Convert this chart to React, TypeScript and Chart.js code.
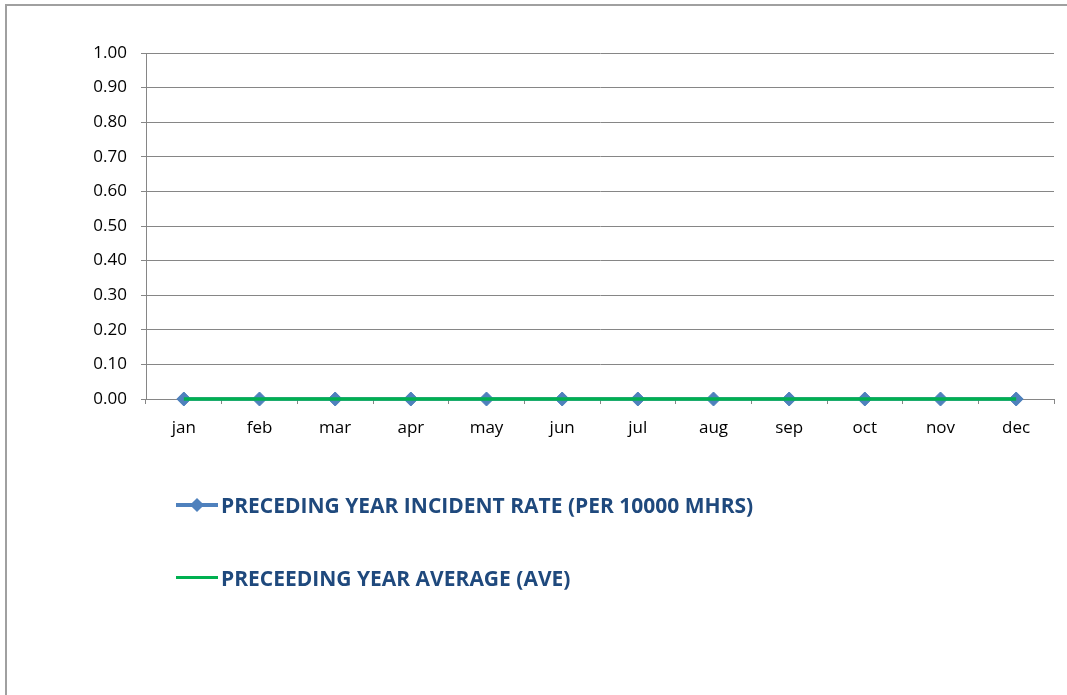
import React, { useEffect, useRef } from "react";
import { Chart, registerables } from "chart.js";

Chart.register(...registerables);

const months = ["jan", "feb", "mar", "apr", "may", "jun", "jul", "aug", "sep", "oct", "nov", "dec"];
const incidentRate = [0, 0, 0, 0, 0, 0, 0, 0, 0, 0, 0, 0];
const yearAverage = [0, 0, 0, 0, 0, 0, 0, 0, 0, 0, 0, 0];
const yTickLabels = ["0.00", "0.10", "0.20", "0.30", "0.40", "0.50", "0.60", "0.70", "0.80", "0.90", "1.00"];
const seriesNames = ["PRECEDING YEAR INCIDENT RATE (PER 10000 MHRS)", "PRECEEDING YEAR AVERAGE (AVE)"];

const BLUE = "#4F81BD";
const GREEN = "#00B050";
const GRID = "#868686";
const FONT = "'Open Sans', sans-serif";

export default function App() {
  const canvasRef = useRef<HTMLCanvasElement | null>(null);

  useEffect(() => {
    const canvas = canvasRef.current;
    if (!canvas) return;
    const X_AXIS_H = 60;
    const chart = new Chart(canvas, {
      type: "line",
      data: {
        labels: months,
        datasets: [
          {
            label: seriesNames[1],
            data: yearAverage,
            borderColor: GREEN,
            backgroundColor: GREEN,
            borderWidth: 3.5,
            pointRadius: 0,
            order: 0,
            clip: false,
          },
          {
            label: seriesNames[0],
            data: incidentRate,
            borderColor: BLUE,
            backgroundColor: BLUE,
            borderWidth: 3.5,
            pointStyle: "rectRot",
            pointRadius: 7,
            pointBorderWidth: 1,
            pointBorderColor: "#4A7EBB",
            pointBackgroundColor: BLUE,
            order: 1,
            clip: false,
          },
        ],
      },
      options: {
        animation: false,
        responsive: false,
        maintainAspectRatio: false,
        layout: { padding: { left: 0, top: 53, right: 13, bottom: 695 - 399 - X_AXIS_H } },
        plugins: { legend: { display: false }, tooltip: { enabled: false } },
        scales: {
          x: {
            type: "category",
            offset: true,
            grid: { offset: true, drawOnChartArea: false, drawTicks: true, tickLength: 5, color: GRID, lineWidth: 1 },
            border: { color: GRID, width: 1 },
            ticks: { color: "#000", font: { family: FONT, size: 17 }, padding: 14, maxRotation: 0, autoSkip: false },
            afterFit: (s: any) => {
              s.height = X_AXIS_H;
            },
          },
          y: {
            min: 0,
            max: 1,
            grid: { color: GRID, tickLength: 5, lineWidth: 1 },
            border: { color: GRID, width: 1 },
            ticks: {
              stepSize: 0.1,
              color: "#000",
              font: { family: FONT, size: 17 },
              padding: 14,
              callback: (_v: any, i: number) => yTickLabels[i],
            },
            afterFit: (s: any) => {
              s.width = 146;
            },
          },
        },
      },
    });
    return () => chart.destroy();
  }, []);

  const legendText: React.CSSProperties = {
    position: "absolute",
    left: 221,
    fontFamily: FONT,
    fontWeight: 700,
    fontSize: 21,
    color: "#1F497D",
    whiteSpace: "nowrap",
    lineHeight: "24px",
  };

  return (
    <div style={{ position: "fixed", left: 0, top: 0, width: 1067, height: 695, background: "#fff", overflow: "hidden" }}>
      <div
        style={{
          position: "absolute",
          left: 5,
          top: 4,
          width: 1200,
          height: 900,
          borderLeft: "2px solid #a0a0a0",
          borderTop: "2px solid #a0a0a0",
        }}
      />
      <canvas ref={canvasRef} width={1067} height={695} style={{ position: "absolute", left: 0, top: 0 }} />
      {/* legend row 1 */}
      <div style={{ position: "absolute", left: 176, top: 503, width: 42, height: 4, background: BLUE }} />
      <div
        style={{
          position: "absolute",
          left: 197 - 5,
          top: 505 - 5,
          width: 10,
          height: 10,
          background: BLUE,
          transform: "rotate(45deg)",
        }}
      />
      <div style={{ ...legendText, top: 493 }}>{seriesNames[0]}</div>
      {/* legend row 2 */}
      <div style={{ position: "absolute", left: 176, top: 576, width: 42, height: 3, background: GREEN }} />
      <div style={{ ...legendText, top: 566 }}>{seriesNames[1]}</div>
    </div>
  );
}
